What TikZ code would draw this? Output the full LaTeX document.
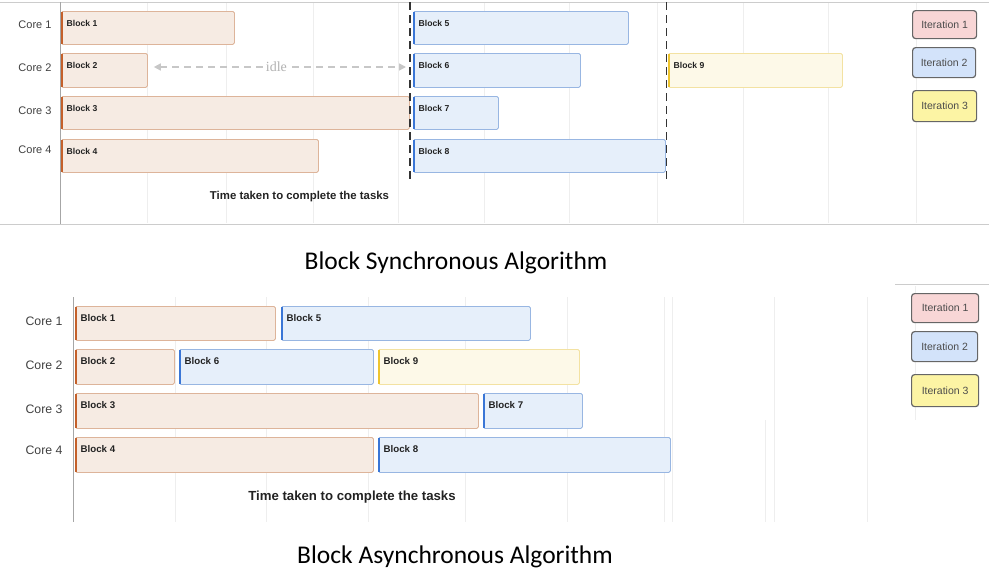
\documentclass[tikz,border=0pt]{standalone}
\usepackage{fontspec}
\setmainfont{Liberation Sans}
\newfontfamily\titlefont{Carlito}
\newfontfamily\idlefont{Liberation Serif}
\usetikzlibrary{arrows.meta}
\definecolor{ofill}{HTML}{F6EBE3}
\definecolor{odraw}{HTML}{DDB49A}
\definecolor{oacc}{HTML}{C4602A}
\definecolor{bfill}{HTML}{E6EFFA}
\definecolor{bdraw}{HTML}{98B6E2}
\definecolor{bacc}{HTML}{3A76D6}
\definecolor{yfill}{HTML}{FDF9E8}
\definecolor{ydraw}{HTML}{F3E2A2}
\definecolor{yacc}{HTML}{EEC530}
\definecolor{l1}{HTML}{F8D6D6}
\definecolor{l2}{HTML}{D3E3FA}
\definecolor{l3}{HTML}{FCF4A4}
\definecolor{gridc}{HTML}{EEEEEE}
\definecolor{framec}{HTML}{CCCCCC}
\definecolor{txt}{HTML}{222222}
\tikzset{
  box/.style={rectangle, rounded corners=1.5pt, line width=0.8pt, inner sep=0pt, anchor=north west},
  iter1/.style={box, fill=ofill, draw=odraw},
  iter2/.style={box, fill=bfill, draw=bdraw},
  iter3/.style={box, fill=yfill, draw=ydraw},
  lbltop/.style={font=\bfseries\fontsize{8.6}{10}\selectfont, text=txt, anchor=west, inner sep=0pt},
  lblbot/.style={font=\bfseries\fontsize{9.7}{11}\selectfont, text=txt, anchor=west, inner sep=0pt},
  coretop/.style={font=\fontsize{11}{13}\selectfont, text=black!75, inner sep=0pt},
  corebot/.style={font=\fontsize{12.3}{14}\selectfont, text=black!75, inner sep=0pt},
  legend/.style={rectangle, rounded corners=3pt, draw=black!60, line width=1.2pt, inner sep=0pt, anchor=north west, font=\fontsize{10.5}{12}\selectfont, text=black!70},
  gridline/.style={draw=gridc, line width=0.7pt},
  frameline/.style={draw=framec, line width=1pt},
  sync/.style={draw=black!80, line width=1.5pt, dash pattern=on 8pt off 5pt},
  idlearrow/.style={draw=black!22, line width=1.5pt, dash pattern=on 7pt off 5pt, {Triangle[length=7pt,width=7pt]}-{Triangle[length=7pt,width=7pt]}},
}
% \blk{name}{x1}{y1}{x2}{y2}{style}{accent}{labelstyle}{text}
\newcommand{\blk}[9]{%
  \node[#6, minimum width=#4pt-#2pt, minimum height=#5pt-#3pt] (#1) at (#2,#3) {};
  \draw[#7, line width=2.2pt] ([xshift=1.1pt,yshift=-0.6pt]#1.north west) -- ([xshift=1.1pt,yshift=0.6pt]#1.south west);
  \node[#8] (#1t) at ([xshift=5.5pt,yshift=-12.5pt]#1.north west) {#9};
}
\begin{document}
\begin{tikzpicture}[x=1pt,y=-1pt]
\useasboundingbox (0,0) rectangle (989,573);
% ---------------- top chart ----------------
\foreach \gx in {147,226,313,398,484,569,657,743,828,916}
  \draw[gridline] (\gx,3) -- (\gx,223);
\coordinate (tfl) at (0,2); \coordinate (tfr) at (989,2);
\coordinate (tbl) at (0,224); \coordinate (tbr) at (989,224);
\draw[frameline] (tfl) -- (tfr);
\draw[frameline] (tbl) -- (tbr);
\coordinate (tax1) at (60,2); \coordinate (tax2) at (60,224);
\draw[frameline, draw=black!35] (tax1) -- (tax2);

\blk{a1}{61}{11}{234}{44}{iter1}{oacc}{lbltop}{Block 1}
\blk{a2}{61}{53}{147}{87}{iter1}{oacc}{lbltop}{Block 2}
\blk{a3}{61}{96}{409}{129}{iter1}{oacc}{lbltop}{Block 3}
\blk{a4}{61}{139}{318}{172}{iter1}{oacc}{lbltop}{Block 4}
\blk{a5}{413}{11}{628}{44}{iter2}{bacc}{lbltop}{Block 5}
\blk{a6}{413}{53}{580}{87}{iter2}{bacc}{lbltop}{Block 6}
\blk{a7}{413}{96}{498}{129}{iter2}{bacc}{lbltop}{Block 7}
\blk{a8}{413}{139}{665}{172}{iter2}{bacc}{lbltop}{Block 8}
\blk{a9}{668}{53}{842}{87}{iter3}{yacc}{lbltop}{Block 9}

\coordinate (s1a) at (410,2); \coordinate (s1b) at (410,182);
\coordinate (s2a) at (666.5,2); \coordinate (s2b) at (666.5,182);
\draw[sync] (s1a) -- (s1b);
\draw[sync] (s2a) -- (s2b);

\draw[idlearrow, shorten <=6pt, shorten >=7pt] (a2.east |- 0,67) -- node[pos=0.485, fill=white, inner xsep=3pt, inner ysep=1pt, font=\idlefont\fontsize{14}{16}\selectfont, text=black!30] (idle) {idle} (a6.west |- 0,67);

\node[coretop] (c1) at (35,25) {Core 1};
\node[coretop] (c2) at (35,68) {Core 2};
\node[coretop] (c3) at (35,111) {Core 3};
\node[coretop] (c4) at (35,150) {Core 4};

\node[font=\bfseries\fontsize{11.4}{13}\selectfont, text=txt, inner sep=0pt] (tt) at (299.5,197) {Time taken to complete the tasks};

\node[legend, fill=l1, minimum width=64pt, minimum height=28pt] (L1) at (912,10) {Iteration 1};
\node[legend, fill=l2, minimum width=63pt, minimum height=30pt] (L2) at (912,47) {Iteration 2};
\node[legend, fill=l3, minimum width=64pt, minimum height=31pt] (L3) at (912,90) {Iteration 3};

\node[font=\titlefont\fontsize{25.5}{29}\selectfont, inner sep=0pt] (T1) at (456,263) {Block Synchronous Algorithm};

% ---------------- bottom chart ----------------
\foreach \gx in {175,266,368,465,567,664,672,774,867}
  \draw[gridline] (\gx,297) -- (\gx,522);
\draw[gridline] (765,420) -- (765,522);
\draw[gridline] (915,286) -- (915,420);
\coordinate (bfl) at (895,284); \coordinate (bfr) at (989,284);
\draw[frameline] (bfl) -- (bfr);
\coordinate (bax1) at (73,297); \coordinate (bax2) at (73,522);
\draw[frameline, draw=black!35] (bax1) -- (bax2);

\blk{b1}{75}{306}{275}{340}{iter1}{oacc}{lblbot}{Block 1}
\blk{b5}{281}{306}{530}{340}{iter2}{bacc}{lblbot}{Block 5}
\blk{b2}{75}{349}{174}{384}{iter1}{oacc}{lblbot}{Block 2}
\blk{b6}{179}{349}{373}{384}{iter2}{bacc}{lblbot}{Block 6}
\blk{b9}{378}{349}{579}{384}{iter3}{yacc}{lblbot}{Block 9}
\blk{b3}{75}{393}{478}{428}{iter1}{oacc}{lblbot}{Block 3}
\blk{b7}{483}{393}{582}{428}{iter2}{bacc}{lblbot}{Block 7}
\blk{b4}{75}{437}{373}{472}{iter1}{oacc}{lblbot}{Block 4}
\blk{b8}{378}{437}{670}{472}{iter2}{bacc}{lblbot}{Block 8}

\node[corebot] (d1) at (44,321) {Core 1};
\node[corebot] (d2) at (44,365) {Core 2};
\node[corebot] (d3) at (44,409) {Core 3};
\node[corebot] (d4) at (44,450) {Core 4};

\node[font=\bfseries\fontsize{13.2}{15}\selectfont, text=txt, inner sep=0pt] (bt) at (352,497) {Time taken to complete the tasks};

\node[legend, fill=l1, minimum width=67pt, minimum height=29pt] (M1) at (911,293) {Iteration 1};
\node[legend, fill=l2, minimum width=66pt, minimum height=30pt] (M2) at (911,331) {Iteration 2};
\node[legend, fill=l3, minimum width=67pt, minimum height=32pt] (M3) at (911,374) {Iteration 3};

\node[font=\titlefont\fontsize{25.5}{29}\selectfont, inner sep=0pt] (T2) at (455,557) {Block Asynchronous Algorithm};
\end{tikzpicture}
\end{document}
